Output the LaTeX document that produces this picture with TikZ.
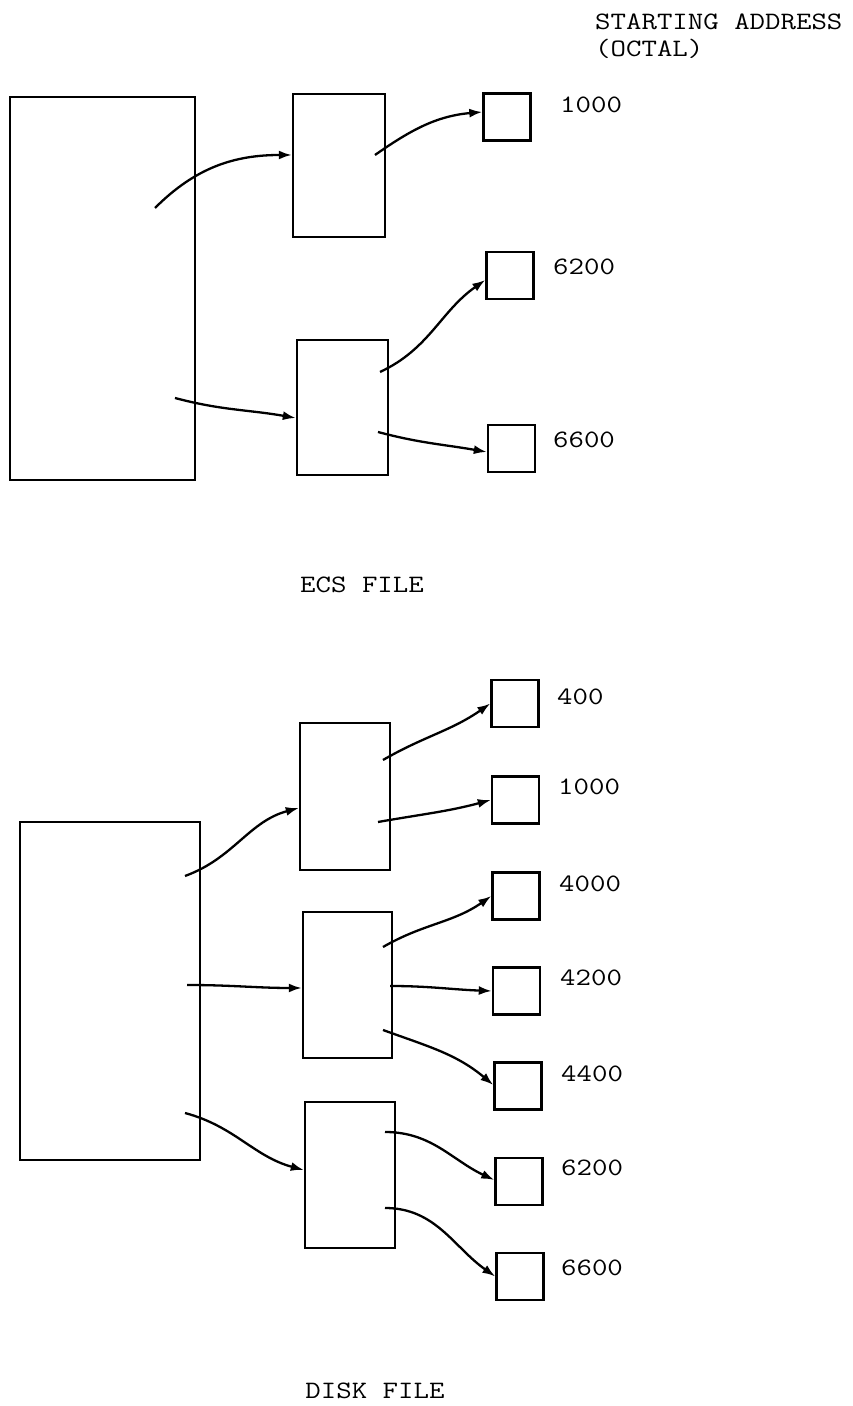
\documentclass[tikz,border=0pt]{standalone}
\usepackage{fontspec}
\usepackage{graphicx}
\usetikzlibrary{arrows.meta}
\newcommand\tw[1]{\scalebox{1.2}[1]{#1}}
\begin{document}
\begin{tikzpicture}[x=1pt,y=1pt,
  box/.style={draw,line width=2.4pt,inner sep=0pt},
  big/.style={box},
  mid/.style={box},
  small/.style={box,minimum width=47pt,minimum height=47pt},
  lbl/.style={anchor=base west,inner sep=0pt,font=\fontsize{25}{27}\selectfont\ttfamily},
  arr/.style={line width=2.3pt,-{Latex[length=13pt,width=9pt]}}]
\useasboundingbox (0,0) rectangle (852,1406);
% ---------- ECS FILE ----------
\node[lbl] (hdr1) at (595,1376) {\tw{STARTING ADDRESS}};
\node[lbl] (hdr2) at (595,1349) {\tw{(OCTAL)}};
\node[big,minimum width=185pt,minimum height=383pt] (A) at (102.5,1117.5) {};
\node[mid,minimum width=92pt,minimum height=143pt] (B1) at (339,1240.5) {};
\node[mid,minimum width=91pt,minimum height=135pt] (B2) at (342.5,998.5) {};
\node[small] (e1000) at (507,1289) {};
\node[small] (e6200) at (510,1130.5) {};
\node[small] (e6600) at (511.5,957.5) {};
\node[lbl] (le1000) at (560,1293) {\tw{1000}};
\node[lbl] (le6200) at (553,1131) {\tw{6200}};
\node[lbl] (le6600) at (553,958) {\tw{6600}};
\node[lbl,anchor=base] (ecs) at (362,813) {\tw{ECS FILE}};
\coordinate (sa1) at (155,1198);
\coordinate (sa2) at (175,1008);
\coordinate (sb1) at (375,1251);
\coordinate (sb2) at (380,1034);
\coordinate (sb3) at (378,974);
\draw[arr] (sa1) to[out=45,in=180] ([yshift=10.5pt]B1.west);
\draw[arr] (sa2) to[out=-15,in=170] ([yshift=-10.5pt]B2.west);
\draw[arr] (sb1) to[out=35,in=185] ([yshift=5pt]e1000.west);
\draw[arr] (sb2) to[out=25,in=215] ([yshift=-4.5pt]e6200.west);
\draw[arr] (sb3) to[out=-15,in=170] ([yshift=-3.5pt]e6600.west);
% ---------- DISK FILE ----------
\node[big,minimum width=180pt,minimum height=338pt] (C) at (110,415) {};
\node[mid,minimum width=90pt,minimum height=147pt] (D1) at (345,609.5) {};
\node[mid,minimum width=89pt,minimum height=146pt] (D2) at (347.5,421) {};
\node[mid,minimum width=90pt,minimum height=146pt] (D3) at (350,231) {};
\node[small] (d400) at (515,702.5) {};
\node[small] (d1000) at (515.5,606) {};
\node[small] (d4000) at (516,510) {};
\node[small] (d4200) at (516.5,415) {};
\node[small] (d4400) at (518,320) {};
\node[small] (d6200) at (519,224.5) {};
\node[small] (d6600) at (520,129.5) {};
\node[lbl] (ld400) at (557,701) {\tw{400}};
\node[lbl] (ld1000) at (558,611) {\tw{1000}};
\node[lbl] (ld4000) at (559,514) {\tw{4000}};
\node[lbl] (ld4200) at (560,420) {\tw{4200}};
\node[lbl] (ld4400) at (561,324) {\tw{4400}};
\node[lbl] (ld6200) at (561,230) {\tw{6200}};
\node[lbl] (ld6600) at (561,130) {\tw{6600}};
\node[lbl,anchor=base] (disk) at (375,8) {\tw{DISK FILE}};
\coordinate (sc1) at (185,530);
\coordinate (sc2) at (187,421);
\coordinate (sc3) at (185,293);
\coordinate (sd1) at (383,646);
\coordinate (sd2) at (378,584);
\coordinate (sd3) at (383,459);
\coordinate (sd4) at (390,420);
\coordinate (sd5) at (383,376);
\coordinate (sd6) at (385,274);
\coordinate (sd7) at (385,198);
\draw[arr] (sc1) to[out=20,in=195] ([yshift=-11.5pt]D1.west);
\draw[arr] (sc2) to[out=0,in=180] ([yshift=-3pt]D2.west);
\draw[arr] (sc3) to[out=-15,in=165] ([yshift=5pt]D3.west);
\draw[arr] (sd1) to[out=30,in=215] (d400.west);
\draw[arr] (sd2) to[out=10,in=195] (d1000.west);
\draw[arr] (sd3) to[out=30,in=215] (d4000.west);
\draw[arr] (sd4) to[out=0,in=178] (d4200.west);
\draw[arr] (sd5) to[out=-20,in=140] ([yshift=1pt]d4400.west);
\draw[arr] (sd6) to[out=0,in=155] ([yshift=1.5pt]d6200.west);
\draw[arr] (sd7) to[out=0,in=145] (d6600.west);
\end{tikzpicture}
\end{document}
